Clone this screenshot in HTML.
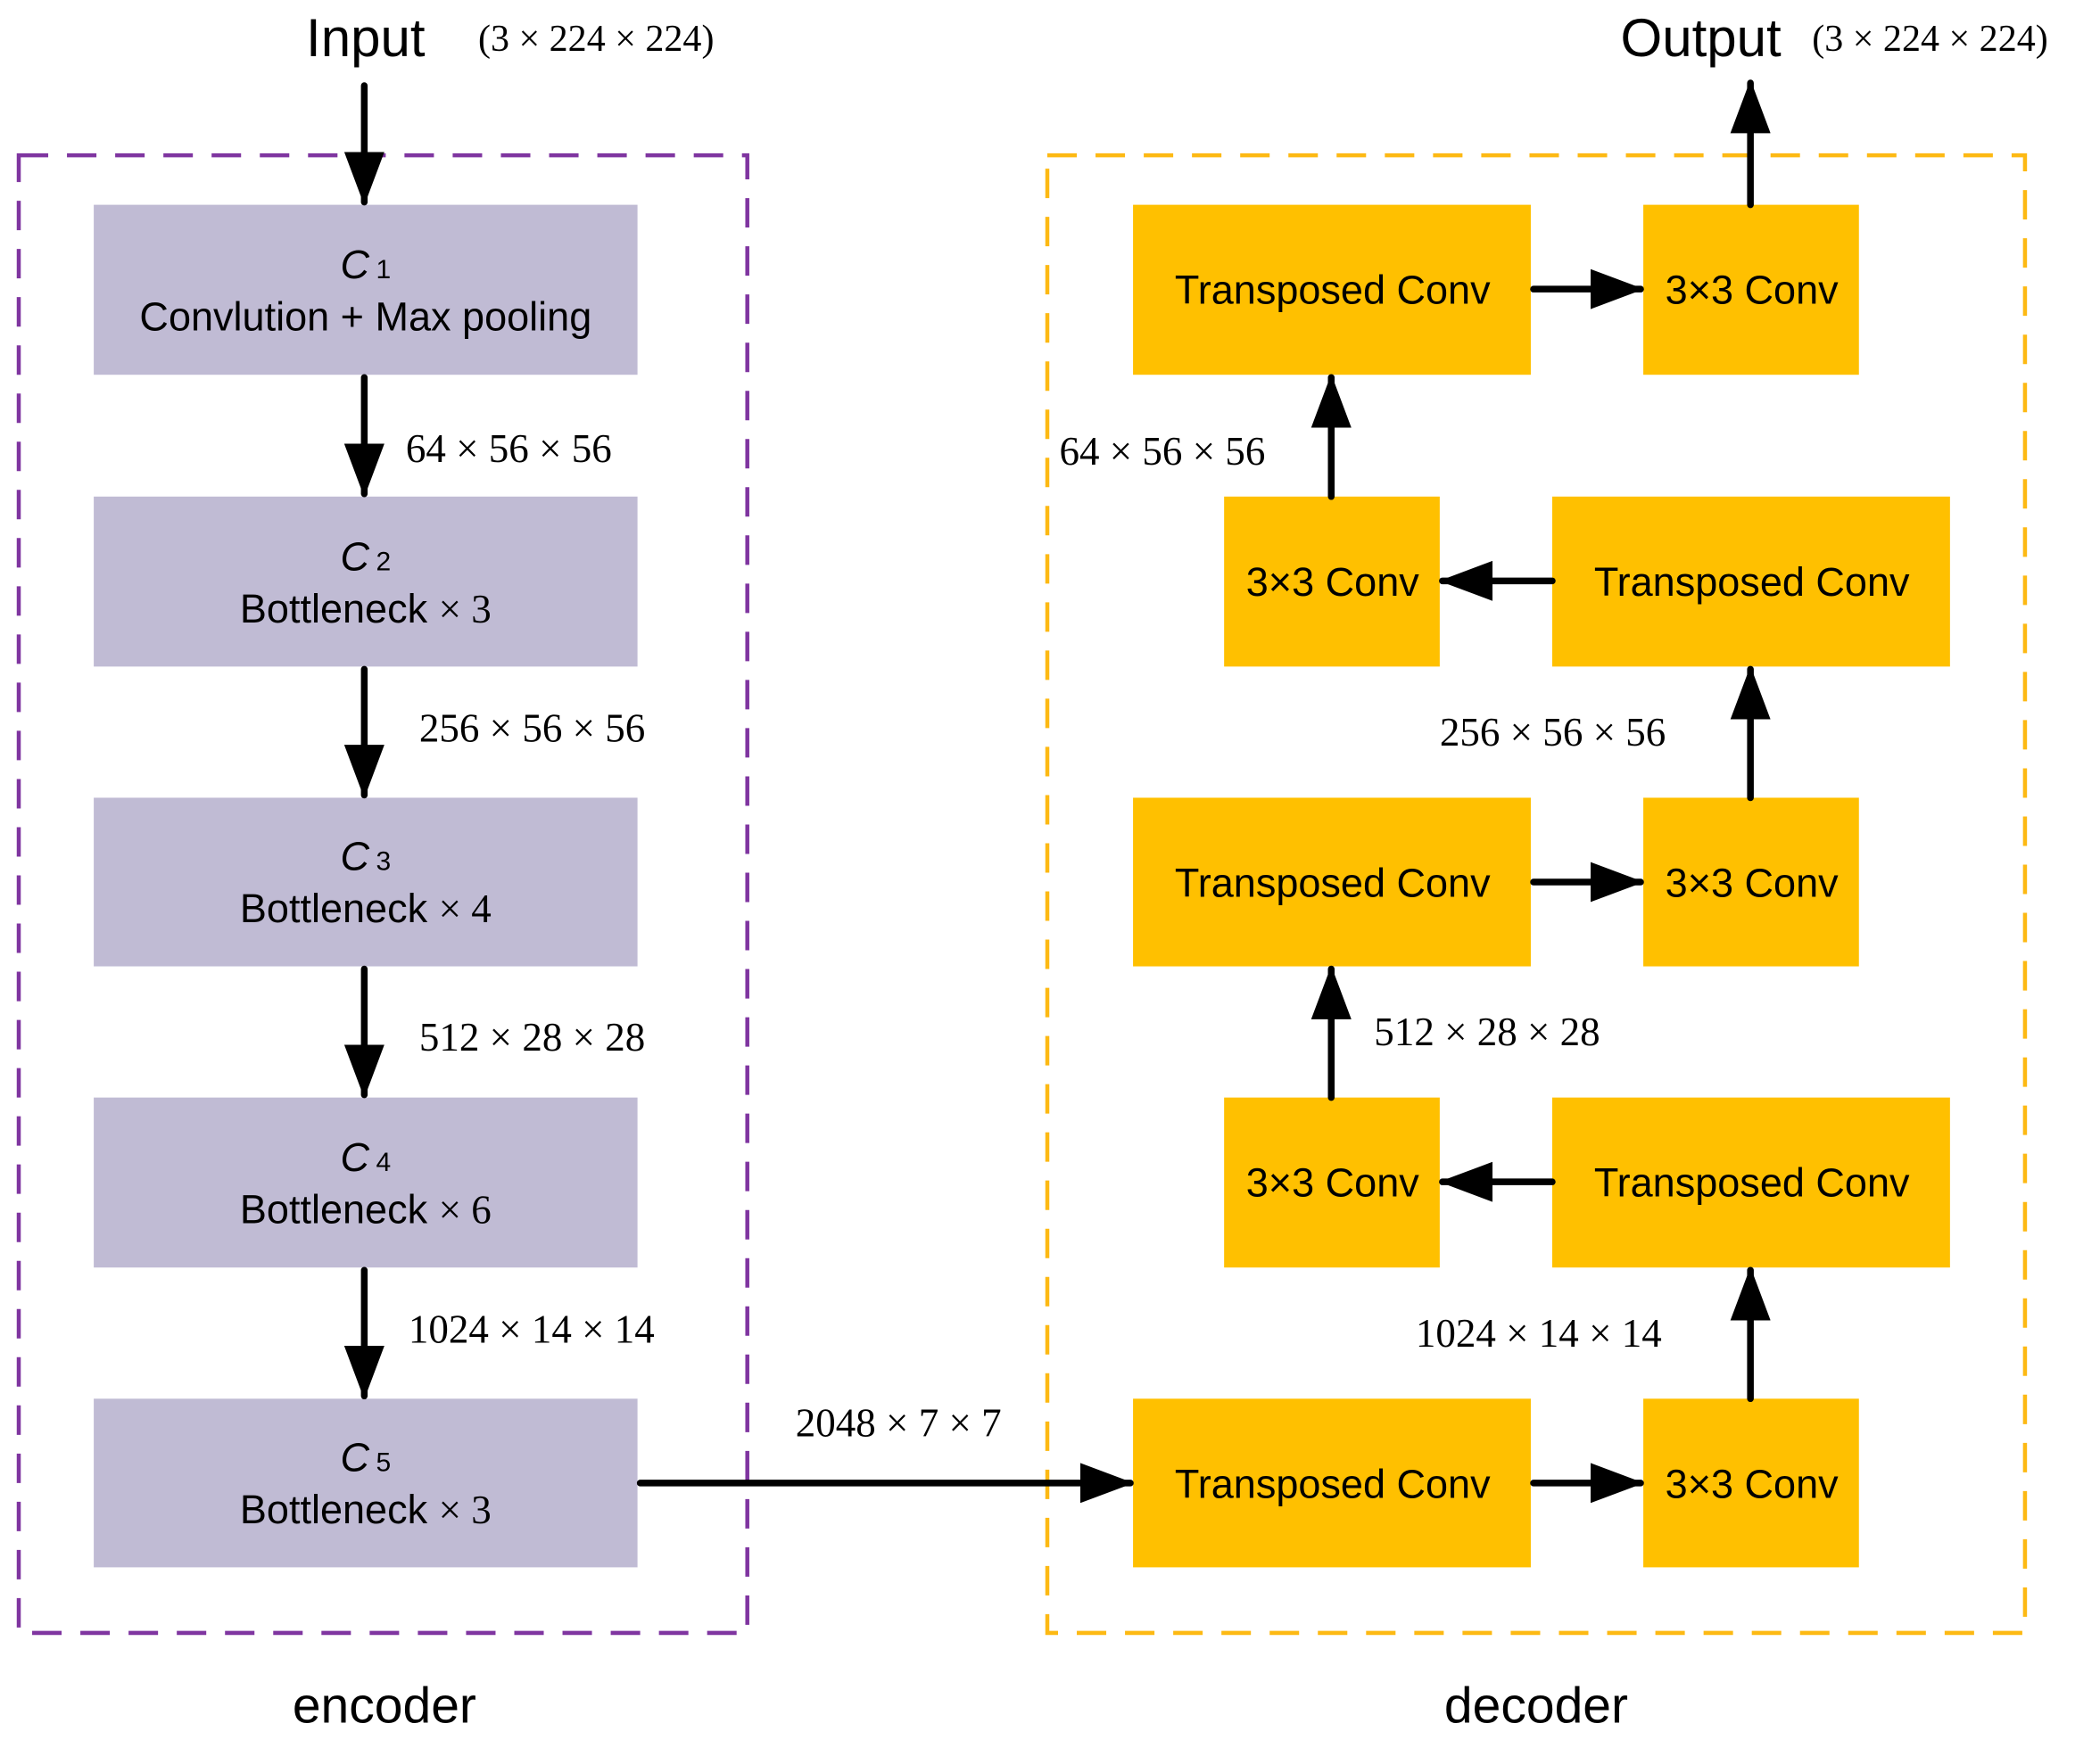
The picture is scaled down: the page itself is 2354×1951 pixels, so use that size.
<!DOCTYPE html>
<html><head><style>
html,body{margin:0;padding:0;background:#fff;}
svg{display:block;}
.s{font-family:"Liberation Sans",sans-serif;font-size:30px;fill:#000;}
.r{font-family:"Liberation Serif",serif;font-size:30px;fill:#000;}
</style></head><body>
<svg width="2354" height="1951" viewBox="0 0 1568 1300" preserveAspectRatio="none" xmlns="http://www.w3.org/2000/svg">
<defs>
<marker id="a" markerWidth="8" markerHeight="6" refX="7.5" refY="3" orient="auto" markerUnits="strokeWidth">
<path d="M0,0 L8,3 L0,6 z" fill="#000"/></marker>
</defs>
<rect x="14" y="116" width="544" height="1104" fill="none" stroke="#7f35a0" stroke-width="3" stroke-dasharray="22,14"/>
<rect x="782" y="116" width="730" height="1104" fill="none" stroke="#fdb913" stroke-width="3" stroke-dasharray="22,14"/>
<g fill="#c0bbd4">
<rect x="70" y="153" width="406" height="127"/>
<rect x="70" y="371" width="406" height="127"/>
<rect x="70" y="596" width="406" height="126"/>
<rect x="70" y="820" width="406" height="127"/>
<rect x="70" y="1045" width="406" height="126"/>
</g>
<g fill="#ffc000">
<rect x="846" y="153" width="297" height="127"/><rect x="1227" y="153" width="161" height="127"/>
<rect x="914" y="371" width="161" height="127"/><rect x="1159" y="371" width="297" height="127"/>
<rect x="846" y="596" width="297" height="126"/><rect x="1227" y="596" width="161" height="126"/>
<rect x="914" y="820" width="161" height="127"/><rect x="1159" y="820" width="297" height="127"/>
<rect x="846" y="1045" width="297" height="126"/><rect x="1227" y="1045" width="161" height="126"/>
</g>
<g stroke="#000" stroke-width="5" stroke-linecap="round" marker-end="url(#a)">
<line x1="272" y1="64" x2="272" y2="151"/>
<line x1="272" y1="282" x2="272" y2="369"/>
<line x1="272" y1="500" x2="272" y2="594"/>
<line x1="272" y1="724" x2="272" y2="818"/>
<line x1="272" y1="949" x2="272" y2="1043"/>
<line x1="478" y1="1108" x2="844" y2="1108"/>
<line x1="1145" y1="216" x2="1225" y2="216"/>
<line x1="1145" y1="659" x2="1225" y2="659"/>
<line x1="1145" y1="1108" x2="1225" y2="1108"/>
<line x1="1159" y1="434" x2="1077" y2="434"/>
<line x1="1159" y1="883" x2="1077" y2="883"/>
<line x1="1307" y1="1045" x2="1307" y2="949"/>
<line x1="994" y1="820" x2="994" y2="724"/>
<line x1="1307" y1="596" x2="1307" y2="500"/>
<line x1="994" y1="371" x2="994" y2="282"/>
<line x1="1307" y1="153" x2="1307" y2="62"/>
</g>
<g class="s" text-anchor="middle">
<text x="273" y="208" font-style="italic">C<tspan font-size="20" font-style="normal" dx="5">1</tspan></text>
<text x="273" y="247">Convlution + Max pooling</text>
<text x="273" y="426" font-style="italic">C<tspan font-size="20" font-style="normal" dx="5">2</tspan></text>
<text x="273" y="465">Bottleneck <tspan class="r">× 3</tspan></text>
<text x="273" y="650" font-style="italic">C<tspan font-size="20" font-style="normal" dx="5">3</tspan></text>
<text x="273" y="689">Bottleneck <tspan class="r">× 4</tspan></text>
<text x="273" y="875" font-style="italic">C<tspan font-size="20" font-style="normal" dx="5">4</tspan></text>
<text x="273" y="914">Bottleneck <tspan class="r">× 6</tspan></text>
<text x="273" y="1099" font-style="italic">C<tspan font-size="20" font-style="normal" dx="5">5</tspan></text>
<text x="273" y="1138">Bottleneck <tspan class="r">× 3</tspan></text>
<text x="995" y="227">Transposed Conv</text><text x="1308" y="227">3×3 Conv</text>
<text x="995" y="445">3×3 Conv</text><text x="1308" y="445">Transposed Conv</text>
<text x="995" y="670">Transposed Conv</text><text x="1308" y="670">3×3 Conv</text>
<text x="995" y="894">3×3 Conv</text><text x="1308" y="894">Transposed Conv</text>
<text x="995" y="1119">Transposed Conv</text><text x="1308" y="1119">3×3 Conv</text>
<text x="273" y="42" font-size="40">Input</text>
<text x="1270" y="42" font-size="40">Output</text>
<text x="287" y="1287" font-size="38">encoder</text>
<text x="1147" y="1287" font-size="38">decoder</text>
</g>
<g class="r">
<text x="357" y="38" font-size="28">(3 × 224 × 224)</text>
<text x="1353" y="38" font-size="28">(3 × 224 × 224)</text>
<text x="303" y="345">64 × 56 × 56</text>
<text x="313" y="554">256 × 56 × 56</text>
<text x="313" y="785">512 × 28 × 28</text>
<text x="305" y="1003">1024 × 14 × 14</text>
<text x="594" y="1073">2048 × 7 × 7</text>
<text x="791" y="347">64 × 56 × 56</text>
<text x="1075" y="557">256 × 56 × 56</text>
<text x="1026" y="781">512 × 28 × 28</text>
<text x="1057" y="1006">1024 × 14 × 14</text>
</g>
</svg>
</body></html>
